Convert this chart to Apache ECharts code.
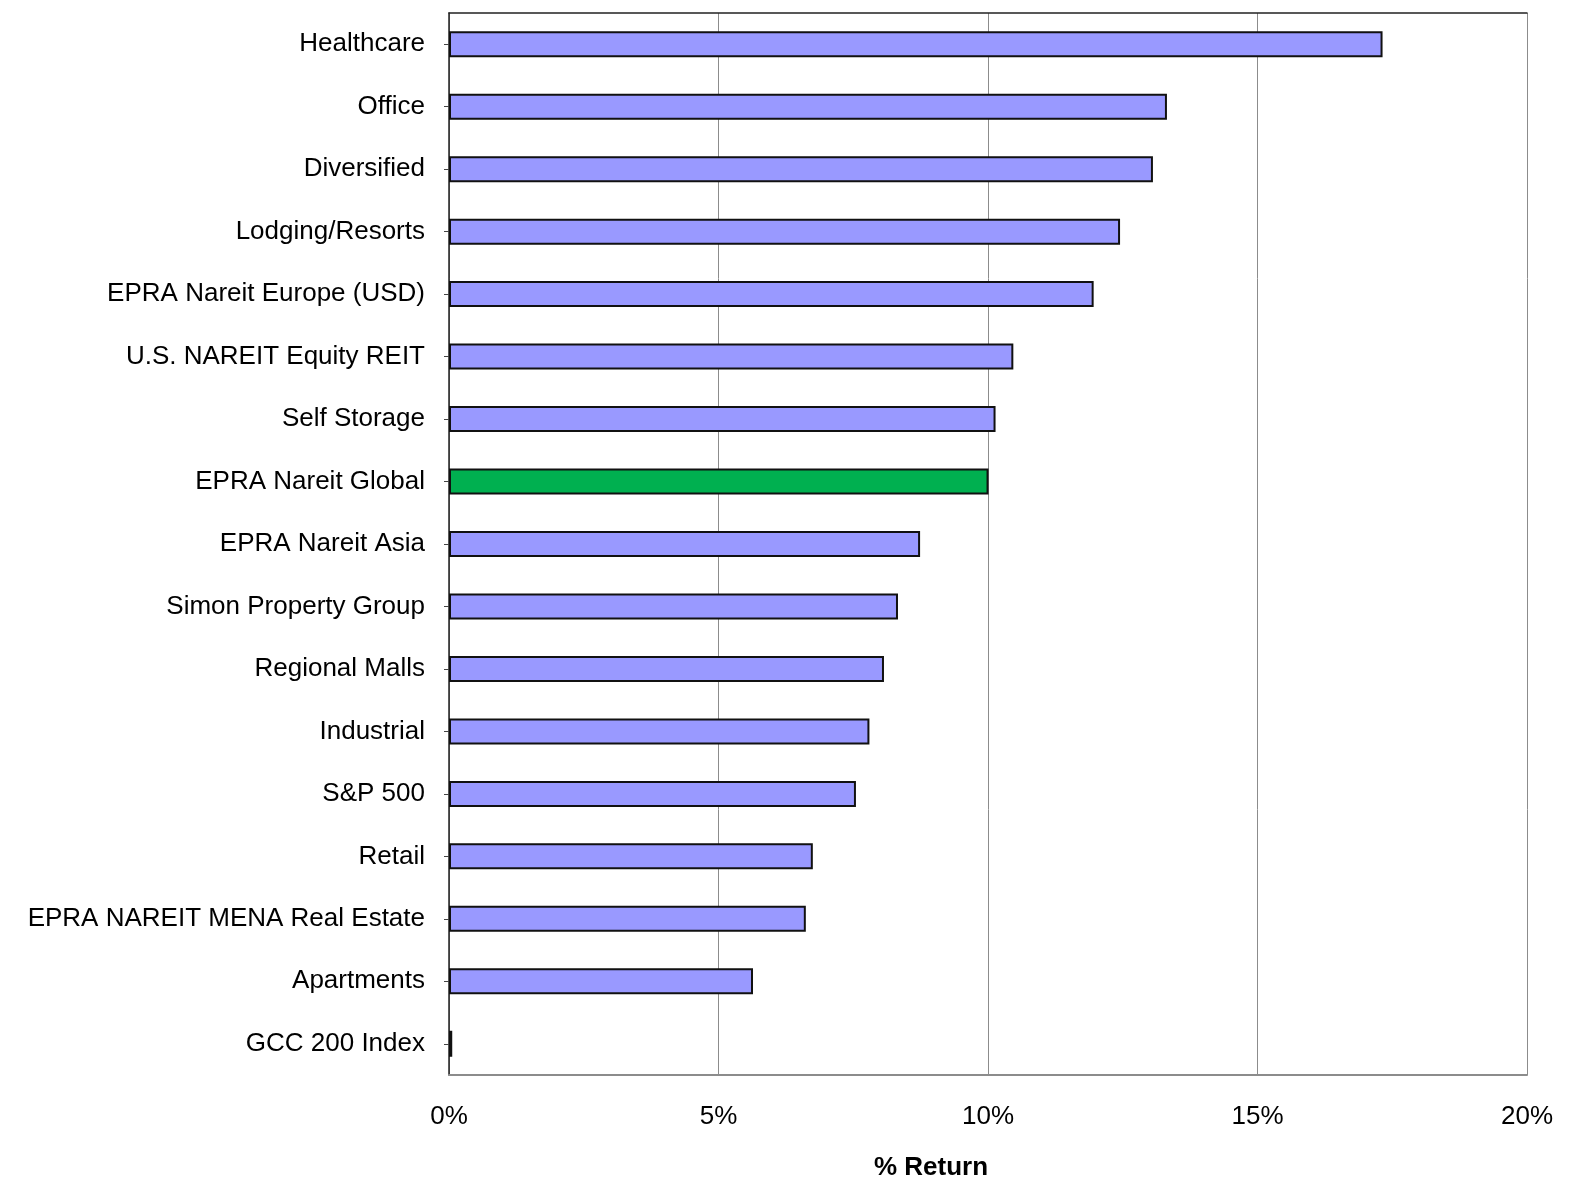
<!DOCTYPE html>
<html>
<head>
<meta charset="utf-8">
<script src="https://cdn.jsdelivr.net/npm/echarts@6/dist/echarts.min.js"></script>
<style>
  html, body { margin: 0; padding: 0; background: #fff; }
  #chart { width: 1571px; height: 1189px; }
</style>
</head>
<body>
<div id="chart"></div>
<script>
// categories top to bottom
const categories = [
  'Healthcare', 'Office', 'Diversified', 'Lodging/Resorts', 'EPRA Nareit Europe (USD)',
  'U.S. NAREIT Equity REIT', 'Self Storage', 'EPRA Nareit Global', 'EPRA Nareit Asia',
  'Simon Property Group', 'Regional Malls', 'Industrial', 'S&P 500', 'Retail',
  'EPRA NAREIT MENA Real Estate', 'Apartments', 'GCC 200 Index'
];
const returns = [17.32, 13.32, 13.06, 12.45, 11.96, 10.47, 10.14, 10.01, 8.74,
  8.33, 8.07, 7.80, 7.55, 6.75, 6.62, 5.64, 0.06];
const highlight = 'EPRA Nareit Global';
const xTicks = [0, 5, 10, 15, 20];

const chart = echarts.init(document.getElementById('chart'));
const font = 'Liberation Sans, Arial, sans-serif';

const option = {
  animation: false,
  grid: { left: 449, right: 44, top: 13, bottom: 114 },
  xAxis: [{
    type: 'value',
    min: xTicks[0],
    max: xTicks[xTicks.length - 1],
    interval: 5,
    axisLine: { show: true, lineStyle: { color: '#8c8c8c', width: 2 } },
    axisTick: { show: false },
    axisLabel: {
      formatter: v => v + '%',
      color: '#000',
      fontFamily: font,
      fontSize: 26,
      margin: 29
    },
    splitLine: { show: true, lineStyle: { color: '#8c8c8c', width: 1 } }
  }, {
    type: 'value',
    position: 'top',
    min: xTicks[0],
    max: xTicks[xTicks.length - 1],
    axisLine: { show: true, lineStyle: { color: '#222', width: 1.5 } },
    axisTick: { show: false },
    axisLabel: { show: false },
    splitLine: { show: false }
  }],
  yAxis: {
    type: 'category',
    inverse: true,
    data: categories,
    axisLine: { show: true, lineStyle: { color: '#222', width: 1.5 } },
    axisTick: { show: true, alignWithLabel: true, length: 5, lineStyle: { color: '#444' } },
    axisLabel: {
      color: '#000',
      fontFamily: font,
      fontSize: 26,
      margin: 24,
      padding: [5, 0, 0, 0]
    }
  },
  series: [{
    type: 'bar',
    xAxisIndex: 0,
    barWidth: 26,
    data: returns.map((v, i) => ({
      value: v,
      itemStyle: { color: categories[i] === highlight ? '#00B050' : '#9999FF' }
    })),
    itemStyle: { borderColor: '#111', borderWidth: 2 }
  }],
  graphic: [{
    type: 'text',
    left: 874,
    top: 1155,
    style: {
      text: '% Return',
      fontFamily: font,
      fontSize: 26,
      fontWeight: 'bold',
      fill: '#000'
    }
  }]
};
chart.setOption(option);
</script>
</body>
</html>
